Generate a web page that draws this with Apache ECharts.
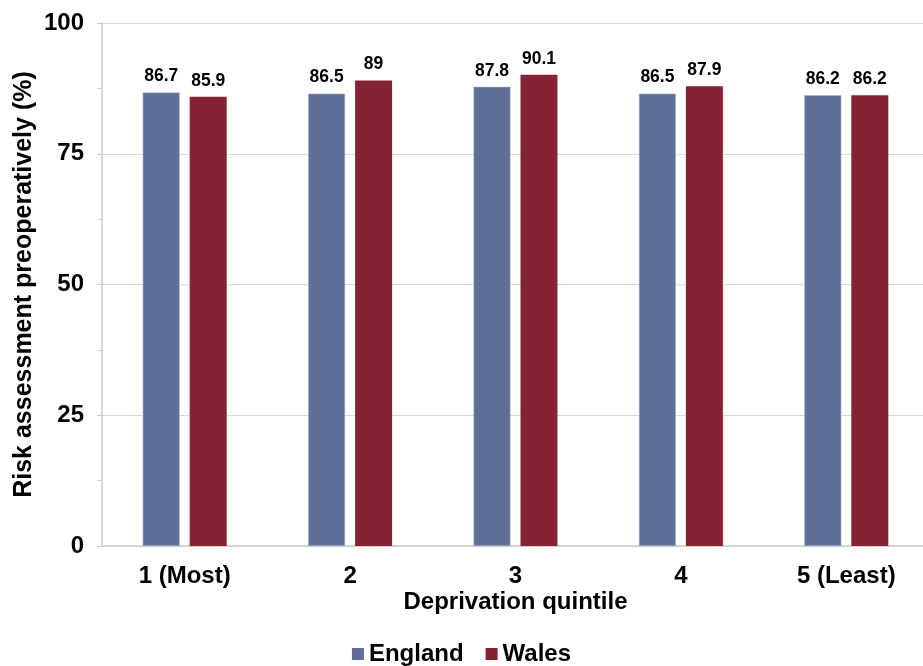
<!DOCTYPE html>
<html><head><meta charset="utf-8">
<script src="https://cdn.jsdelivr.net/npm/echarts@6/dist/echarts.min.js"></script>
<style>html,body{margin:0;padding:0;background:#fff}#c{width:923px;height:666px}</style>
</head><body><div id="c"></div>
<script>
const categories = ['1 (Most)', '2', '3', '4', '5 (Least)'];
const england = [86.7, 86.5, 87.8, 86.5, 86.2];
const wales = [85.9, 89, 90.1, 87.9, 86.2];
const yTicks = [0, 25, 50, 75, 100];

const F = 'Liberation Sans, Arial, sans-serif';
const chart = echarts.init(document.getElementById('c'));
chart.setOption({
  animation: false,
  textStyle: { fontFamily: F },
  grid: { left: 102, right: -6, top: 23, bottom: 120, containLabel: false, outerBoundsMode: 'none' },
  legend: {
    data: ['England', 'Wales'], top: 637, left: 'center',
    icon: 'rect', itemWidth: 12, itemHeight: 12, itemGap: 22,
    itemStyle: { borderWidth: 0 },
    textStyle: { fontFamily: F, fontWeight: 'bold', fontSize: 24, color: '#000' }
  },
  xAxis: {
    type: 'category', data: categories,
    name: 'Deprivation quintile', nameLocation: 'middle', nameGap: 44, nameMoveOverlap: false,
    nameTextStyle: { fontFamily: F, fontWeight: 'bold', fontSize: 24, color: '#000' },
    axisLine: { lineStyle: { color: '#cccccc', width: 1.5 } },
    axisTick: { show: false },
    axisLabel: { fontFamily: F, fontWeight: 'bold', fontSize: 24, color: '#000', margin: 18 }
  },
  yAxis: {
    type: 'value', min: yTicks[0], max: yTicks[yTicks.length - 1], interval: 25,
    name: 'Risk assessment preoperatively (%)', nameLocation: 'middle', nameGap: 65, nameMoveOverlap: false,
    nameTextStyle: { fontFamily: F, fontWeight: 'bold', fontSize: 25, color: '#000' },
    axisLine: { show: true, lineStyle: { color: '#cccccc', width: 1.5 } },
    axisTick: { show: true, length: 5, lineStyle: { color: '#cccccc' } },
    minorTick: { show: true, splitNumber: 2, length: 5, lineStyle: { color: '#cccccc' } },
    splitLine: { lineStyle: { color: '#d9d9d9', width: 1 } },
    axisLabel: { fontFamily: F, fontWeight: 'bold', fontSize: 24, color: '#000', margin: 18 }
  },
  series: [
    {
      name: 'England', type: 'bar', data: england, barWidth: 37, barGap: '27%',
      itemStyle: { color: '#5f6f99', borderColor: '#a9b3cc', borderWidth: 0.6 },
      label: { show: true, position: 'top', distance: 7, fontFamily: F, fontWeight: 'bold', fontSize: 17.5, color: '#000' }
    },
    {
      name: 'Wales', type: 'bar', data: wales, barWidth: 37,
      itemStyle: { color: '#842334' },
      label: { show: true, position: 'top', distance: 7, fontFamily: F, fontWeight: 'bold', fontSize: 17.5, color: '#000' }
    }
  ]
});
</script></body></html>
